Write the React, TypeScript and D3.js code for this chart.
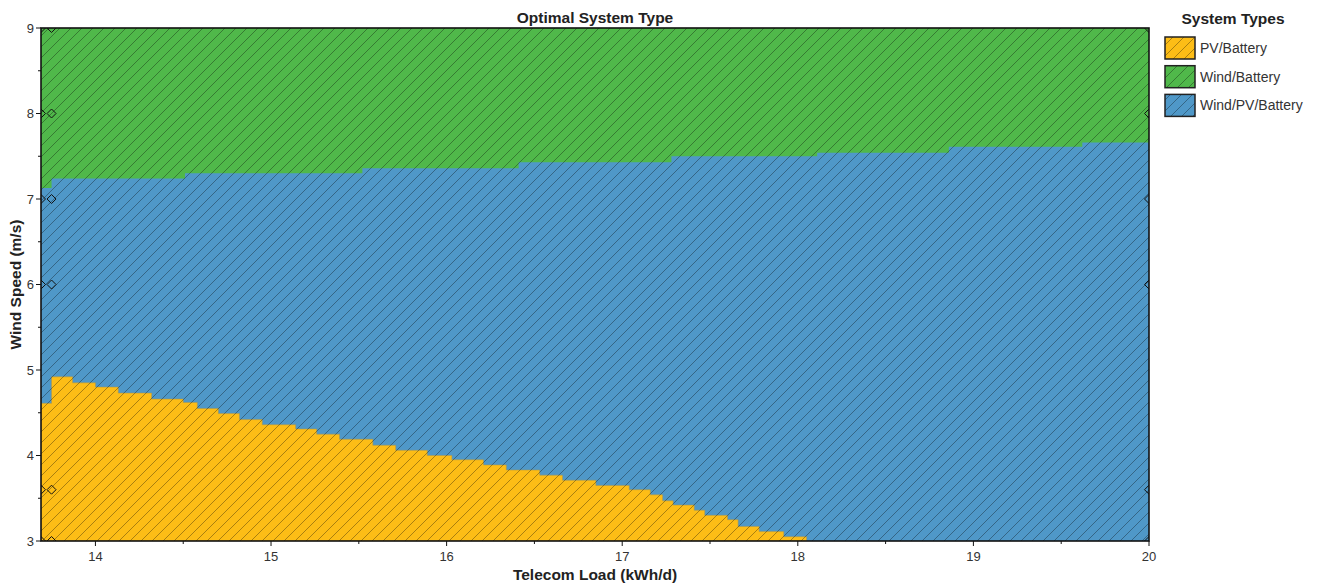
import React from 'react';
import * as d3 from 'd3';

const WIDTH = 1320;
const HEIGHT = 585;
const PLOT = { left: 41, top: 28, right: 1149, bottom: 541 };

// Axis extents and ticks
const loadDomain = [13.69, 20];
const windDomain = [3, 9];
const xTicks = [14, 15, 16, 17, 18, 19, 20];
const xMinorTicks = [14.5, 15.5, 16.5, 17.5, 18.5, 19.5];
const yTicks = [3, 4, 5, 6, 7, 8, 9];
const yMinorTicks = [3.5, 4.5, 5.5, 6.5, 7.5, 8.5];

// Upper edge of the PV/Battery region (step starts: load, wind speed)
const pvLoad = [
  13.69, 13.75, 13.87, 14.0, 14.13, 14.32, 14.5, 14.58, 14.7, 14.82, 14.95, 15.14,
  15.26, 15.39, 15.58, 15.71, 15.89, 16.03, 16.21, 16.34, 16.53, 16.66, 16.85, 17.04,
  17.16, 17.23, 17.29, 17.41, 17.47, 17.6, 17.66, 17.78, 17.92, 18.05,
];
const pvWind = [
  4.61, 4.92, 4.85, 4.8, 4.73, 4.66, 4.62, 4.55, 4.49, 4.42, 4.36, 4.31,
  4.25, 4.19, 4.12, 4.06, 4.0, 3.95, 3.89, 3.83, 3.77, 3.71, 3.65, 3.6,
  3.54, 3.47, 3.42, 3.36, 3.3, 3.25, 3.17, 3.11, 3.05, 3.05,
];

// Lower edge of the Wind/Battery region
const windLoad = [13.69, 13.75, 14.51, 15.52, 16.41, 17.28, 18.11, 18.86, 19.62, 20];
const windWind = [7.13, 7.24, 7.3, 7.36, 7.43, 7.5, 7.54, 7.61, 7.66, 7.66];

// Sensitivity cases evaluated
const sensLoads = [13.69, 13.75, 20];
const sensWinds = [3, 3.6, 6, 7, 8, 9];

const systemTypes = ['PV/Battery', 'Wind/Battery', 'Wind/PV/Battery'];
const systemColors = ['#FDBD16', '#50B84A', '#4F98C8'];

const FONT = '"Liberation Sans", Arial, Helvetica, sans-serif';
const HATCH = 11;

export default function App() {
  const x = d3.scaleLinear().domain(loadDomain).range([PLOT.left, PLOT.right]);
  const y = d3.scaleLinear().domain(windDomain).range([PLOT.bottom, PLOT.top]);

  const pvArea = d3
    .area<number>()
    .x((_, i) => x(pvLoad[i]))
    .y0(() => y(windDomain[0]))
    .y1((d) => y(d))
    .curve(d3.curveStepAfter);

  const windArea = d3
    .area<number>()
    .x((_, i) => x(windLoad[i]))
    .y0((d) => y(d))
    .y1(() => y(windDomain[1]))
    .curve(d3.curveStepAfter);

  const diamond = 'M0,-4.5L4.5,0L0,4.5L-4.5,0Z';
  const points: [number, number][] = [];
  sensLoads.forEach((l) => sensWinds.forEach((w) => points.push([l, w])));

  const pw = PLOT.right - PLOT.left;
  const ph = PLOT.bottom - PLOT.top;
  const h = HATCH;

  return (
    <svg
      width={WIDTH}
      height={HEIGHT}
      style={{ position: 'absolute', left: 0, top: 0, background: '#fff' }}
      fontFamily={FONT}
    >
      <defs>
        <pattern id="hatch" patternUnits="userSpaceOnUse" width={h} height={h}>
          <path
            d={`M-1,${h + 1}L${h + 1},-1M-2,2L2,-2M${h - 2},${h + 2}L${h + 2},${h - 2}`}
            stroke="rgba(0,0,0,0.33)"
            strokeWidth={1}
            fill="none"
          />
        </pattern>
        <clipPath id="plotClip">
          <rect x={PLOT.left} y={PLOT.top} width={pw} height={ph} />
        </clipPath>
      </defs>

      {/* regions */}
      <g clipPath="url(#plotClip)">
        <rect x={PLOT.left} y={PLOT.top} width={pw} height={ph} fill={systemColors[2]} />
        <path d={windArea(windWind) || ''} fill={systemColors[1]} />
        <path
          d={pvArea(pvWind) || ''}
          fill={systemColors[0]}
          stroke="rgba(170,150,80,0.55)"
          strokeWidth={1}
        />
        <rect x={PLOT.left} y={PLOT.top} width={pw} height={ph} fill="url(#hatch)" />
        {points.map(([l, w], i) => (
          <path
            key={i}
            d={diamond}
            transform={`translate(${x(l)},${y(w)})`}
            fill="none"
            stroke="#111"
            strokeWidth={1}
          />
        ))}
      </g>

      {/* frame */}
      <rect
        x={PLOT.left}
        y={PLOT.top}
        width={pw}
        height={ph}
        fill="none"
        stroke="#111"
        strokeWidth={1.6}
      />

      {/* x axis */}
      <g fontSize={13} fill="#333" textAnchor="middle">
        {xTicks.map((t) => (
          <g key={t}>
            <line x1={x(t)} x2={x(t)} y1={PLOT.bottom} y2={PLOT.bottom + 5} stroke="#111" />
            <text x={x(t)} y={PLOT.bottom + 20}>{t}</text>
          </g>
        ))}
        {xMinorTicks.map((t) => (
          <line key={t} x1={x(t)} x2={x(t)} y1={PLOT.bottom} y2={PLOT.bottom + 3} stroke="#111" />
        ))}
      </g>

      {/* y axis */}
      <g fontSize={13} fill="#333" textAnchor="end">
        {yTicks.map((t) => (
          <g key={t}>
            <line x1={PLOT.left - 5} x2={PLOT.left} y1={y(t)} y2={y(t)} stroke="#111" />
            <text x={PLOT.left - 7} y={y(t) + 4.5}>{t}</text>
          </g>
        ))}
        {yMinorTicks.map((t) => (
          <line key={t} x1={PLOT.left - 3} x2={PLOT.left} y1={y(t)} y2={y(t)} stroke="#111" />
        ))}
      </g>

      {/* titles */}
      <text x={595} y={23} textAnchor="middle" fontSize={15.5} fontWeight="bold" fill="#222">
        Optimal System Type
      </text>
      <text x={595} y={580} textAnchor="middle" fontSize={15.5} fontWeight="bold" fill="#222">
        Telecom Load (kWh/d)
      </text>
      <text
        transform={`translate(21,${(PLOT.top + PLOT.bottom) / 2}) rotate(-90)`}
        textAnchor="middle"
        fontSize={15.5}
        fontWeight="bold"
        fill="#222"
      >
        Wind Speed (m/s)
      </text>

      {/* legend */}
      <g>
        <text x={1233} y={24} textAnchor="middle" fontSize={15.5} fontWeight="bold" fill="#222">
          System Types
        </text>
        {systemTypes.map((s, i) => {
          const top = 37 + i * 28.7;
          return (
            <g key={s}>
              <rect x={1165} y={top} width={30} height={22} fill={systemColors[i]} />
              <rect x={1165} y={top} width={30} height={22} fill="url(#hatch)" />
              <rect x={1165} y={top} width={30} height={22} fill="none" stroke="#222" strokeWidth={1.5} />
              <text x={1200} y={top + 16} fontSize={14} fill="#333">{s}</text>
            </g>
          );
        })}
      </g>
    </svg>
  );
}
